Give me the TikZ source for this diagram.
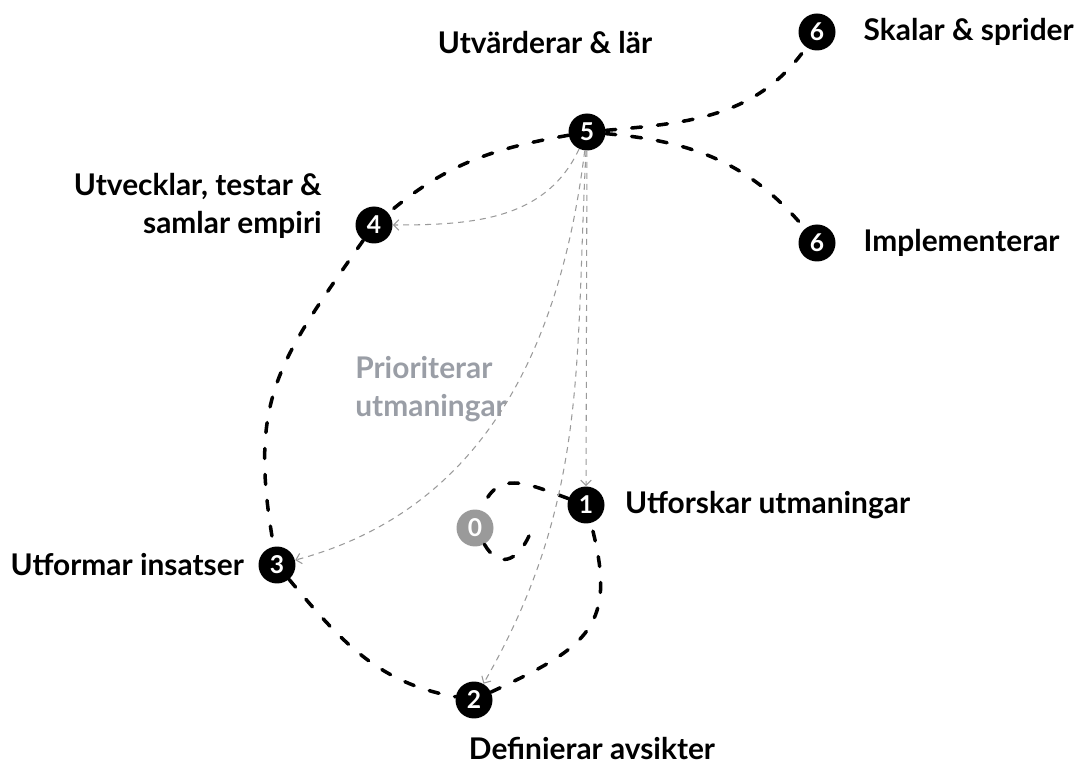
\documentclass[tikz,border=0pt]{standalone}
\usepackage{fontspec}
\setmainfont{Lato}
\usepackage{xcolor}
\usetikzlibrary{positioning,arrows.meta}
\definecolor{stepgray}{HTML}{9A9A9A}
\definecolor{textgray}{HTML}{9A9EA6}

\begin{document}
\begin{tikzpicture}[x=0.02cm,y=-0.02cm,>={Straight Barb[length=3pt,width=6pt]},
    step node/.style={circle,fill=black,text=white,inner sep=0pt,minimum size=0.74cm,font=\bfseries\fontsize{14}{16}\selectfont},
    zero node/.style={step node,fill=stepgray},
    step text/.style={font=\bfseries\fontsize{17}{21.6}\selectfont,inner sep=0pt},
    big path/.style={line width=2pt,dash pattern=on 0.2cm off 0.32cm,line cap=round},
    small path/.style={->,stepgray,line width=0.6pt,dash pattern=on 0.12cm off 0.1cm}]
    \useasboundingbox (0,0) rectangle (1079,766);

    \node[step node] (5) at (587,132) {5};
    \node[step node] (4) at (374,225) {4};
    \node[step node] (3) at (277,565) {3};
    \node[step node] (2) at (474,700) {2};
    \node[step node] (1) at (586,505) {1};
    \node[zero node] (0) at (475,528) {0};
    \node[step node] (6a) at (817,32) {6};
    \node[step node] (6b) at (817,243) {6};
    \coordinate (c0) at (529,536);

    \node[step text] at (545,43) {Utvärderar \& lär};
    \node[step text,right=0.55cm of 6a] {Skalar \& sprider};
    \node[step text,right=0.55cm of 6b] {Implementerar};
    \node[step text,align=right,anchor=east] at (322,206) {Utvecklar, testar \&\\samlar empiri};
    \node[step text,align=left,anchor=west,text=textgray] at (355,389) {Prioriterar\\utmaningar};
    \node[step text,right=0.4cm of 1] {Utforskar utmaningar};
    \node[step text,left=0.28cm of 3] {Utformar insatser};
    \node[step text] at (592,748) {Definierar avsikter};

    \path[big path]
        (5) edge[out=190, in=40] (4)
        (4) edge[out=235, in=100, looseness=1.2] (3)
        (3) edge[out=-50, in=170] (2)
        (2) edge[out=25, in=-75, looseness=1.4] (1)
        (1) edge[out=160, in=70, looseness=1.3] (0)
        (0) edge[out=-60, in=-115, looseness=1.6] (c0)
        (5) edge[out=5, in=235] (6a)
        (5) edge[out=-5, in=130] (6b)
    ;
    \path[small path]
        (5) edge[out=-115, in=0] (4)
        (5) edge (1)
        (5) edge[out=-93, in=60] (2)
        (5) edge[out=-97, in=15] (3)
    ;
\end{tikzpicture}
\end{document}
